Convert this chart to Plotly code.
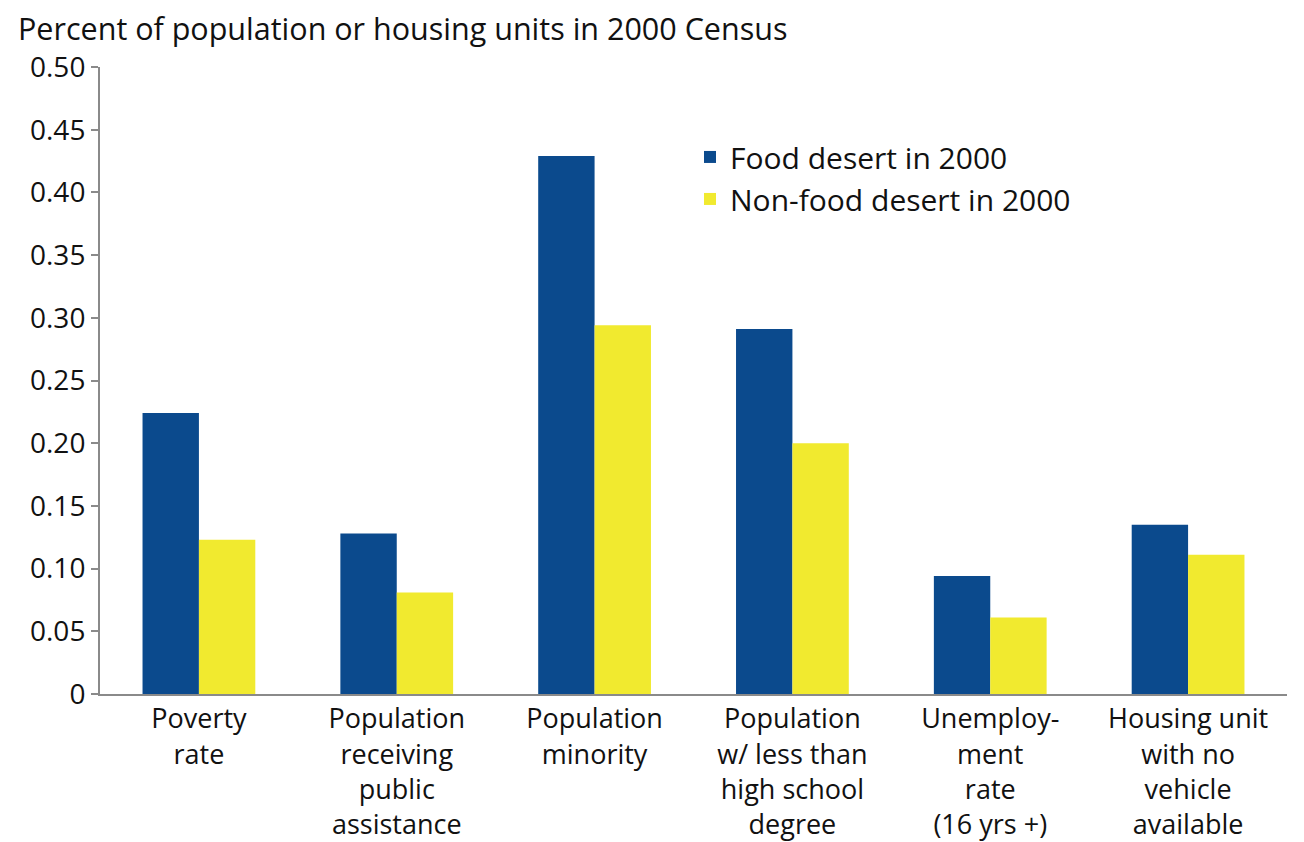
import plotly.graph_objects as go

categories = [
    "Poverty<br>rate",
    "Population<br>receiving<br>public<br>assistance",
    "Population<br>minority",
    "Population<br>w/ less than<br>high school<br>degree",
    "Unemploy-<br>ment<br>rate<br>(16 yrs +)",
    "Housing unit<br>with no<br>vehicle<br>available",
]
food_desert = [0.224, 0.128, 0.429, 0.291, 0.094, 0.135]
non_food_desert = [0.123, 0.081, 0.294, 0.200, 0.061, 0.111]
series_names = ["Food desert in 2000", "Non-food desert in 2000"]
tick_vals = [0, 0.05, 0.10, 0.15, 0.20, 0.25, 0.30, 0.35, 0.40, 0.45, 0.50]
tick_text = ["0", "0.05", "0.10", "0.15", "0.20", "0.25", "0.30", "0.35", "0.40", "0.45", "0.50"]
title_text = "Percent of population or housing units in 2000 Census"

FONT = "Open Sans, Noto Sans, sans-serif"
L, R = 100, 17
PW = 1304 - L - R

fig = go.Figure()
fig.add_trace(go.Bar(x=categories, y=food_desert, name=series_names[0],
                     marker=dict(color="#0b4a8d", line=dict(width=0))))
fig.add_trace(go.Bar(x=categories, y=non_food_desert, name=series_names[1],
                     marker=dict(color="#f1ea2f", line=dict(width=0))))

fig.update_layout(
    width=1304, height=842,
    margin=dict(l=L, r=R, t=67, b=148, autoexpand=False),
    paper_bgcolor="white", plot_bgcolor="white",
    font=dict(family=FONT, size=27, color="#111111"),
    barmode="group", bargap=0.43, bargroupgap=0,
    showlegend=True,
    legend=dict(x=(690 - L) / PW, y=0.898, xanchor="left", yanchor="top",
                font=dict(size=30, family=FONT), bgcolor="rgba(0,0,0,0)",
                tracegroupgap=0),
    annotations=[dict(text=title_text, xref="paper", yref="paper",
                      x=(16 - L) / PW, y=1.0, xanchor="left", yanchor="middle",
                      yshift=39, showarrow=False,
                      font=dict(size=30.5, family=FONT, color="#111111"))],
)
fig.update_xaxes(showline=True, linecolor="#8a8a8a", linewidth=2, ticks="",
                 showgrid=False, automargin=False,
                 tickfont=dict(size=27, family=FONT))
fig.update_yaxes(range=[0, 0.5], tickvals=tick_vals, ticktext=tick_text,
                 showline=True, linecolor="#8a8a8a", linewidth=2,
                 ticks="outside", ticklen=7, tickcolor="#8a8a8a", tickwidth=2,
                 showgrid=False, zeroline=False, automargin=False,
                 tickfont=dict(size=28, family=FONT))

fig.write_html("out.html", config={"displayModeBar": False},
               post_script="document.body.style.margin='0';document.body.style.overflow='hidden';")
